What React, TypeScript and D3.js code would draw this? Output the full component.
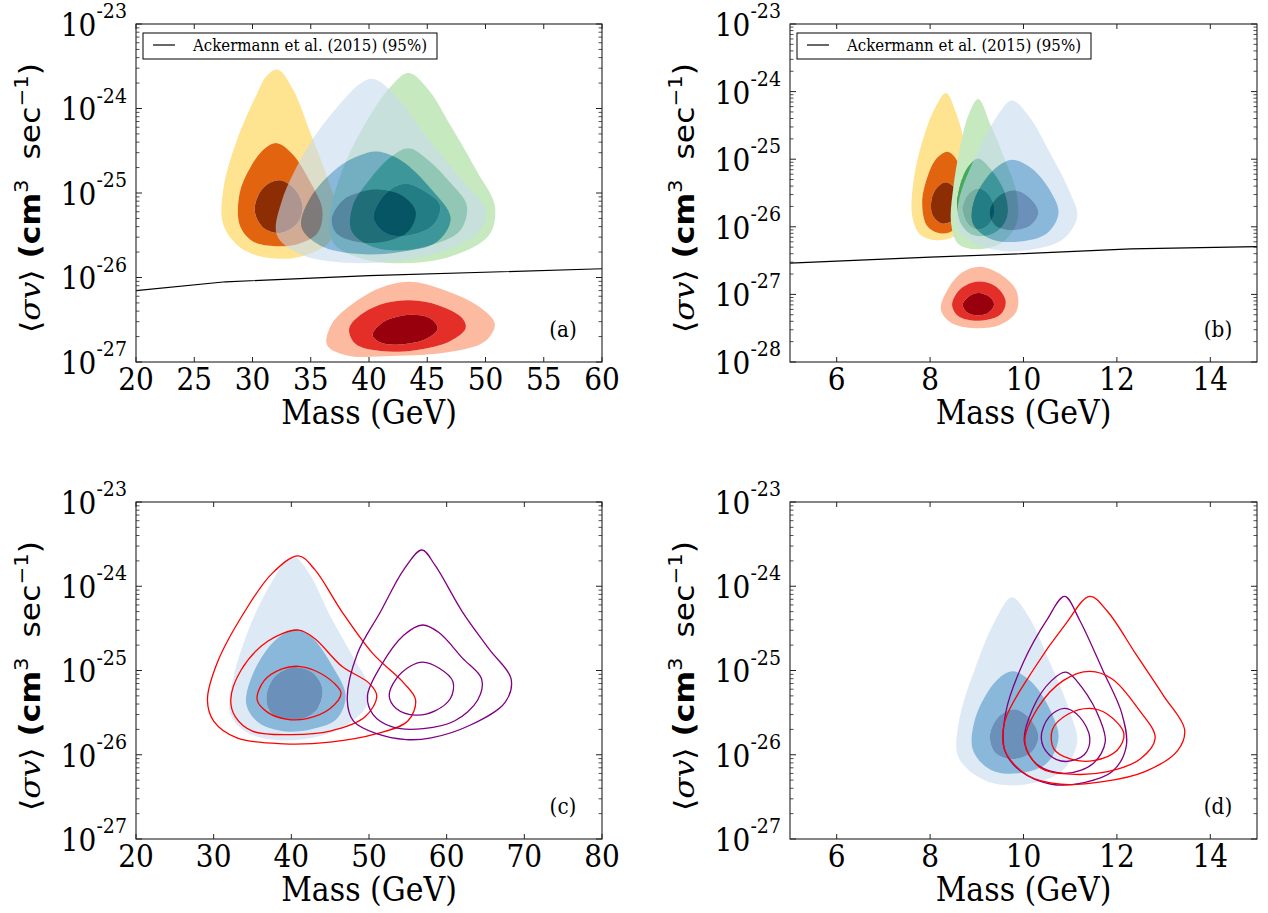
import React from 'react';
import * as d3 from 'd3';

type P = [number, number]; // [mass (GeV), log10 <σv> (cm^3 s^-1)]

// ---------------- panel (a) : 20–60 GeV ----------------
const aYellowOut: P[] = [[32.2,-23.54],[33.5,-23.78],[35.0,-24.3],[36.5,-24.85],[37.3,-25.25],[36.6,-25.58],[34.2,-25.75],[31.5,-25.77],[29.0,-25.65],[27.5,-25.38],[27.5,-24.95],[28.6,-24.4],[30.2,-23.88],[31.3,-23.6]];
const aYellowMid: P[] = [[32.1,-24.41],[33.5,-24.55],[35.0,-24.88],[36.0,-25.2],[35.6,-25.47],[34.0,-25.6],[32.0,-25.63],[30.0,-25.57],[28.9,-25.38],[28.9,-25.0],[29.8,-24.7],[31.0,-24.48]];
const aYellowIn: P[] = [[32.4,-24.85],[33.6,-24.95],[34.3,-25.15],[33.9,-25.35],[32.5,-25.47],[31.0,-25.42],[30.2,-25.22],[30.6,-25.0],[31.5,-24.88]];

const aGreenOut: P[] = [[43.4,-23.58],[45.0,-23.76],[47.0,-24.2],[49.3,-24.75],[50.8,-25.15],[50.3,-25.5],[47.0,-25.75],[43.0,-25.83],[39.5,-25.78],[37.0,-25.6],[36.6,-25.3],[37.8,-24.7],[39.8,-24.15],[41.8,-23.75]];
const aGreenMid: P[] = [[43.4,-24.47],[45.0,-24.6],[47.0,-24.88],[48.4,-25.15],[47.8,-25.45],[45.0,-25.63],[42.5,-25.68],[40.0,-25.62],[38.5,-25.45],[38.6,-25.15],[40.0,-24.85],[41.8,-24.58]];
const aGreenIn: P[] = [[43.2,-24.89],[44.8,-24.98],[46.1,-25.15],[45.5,-25.38],[43.5,-25.5],[41.5,-25.48],[40.4,-25.3],[41.0,-25.08],[42.2,-24.93]];

// blue set shared by panels (a) and (c)
const acBlueOut: P[] = [[40.4,-23.65],[42.3,-23.85],[45.0,-24.35],[48.0,-24.85],[50.0,-25.2],[49.5,-25.45],[46.0,-25.7],[42.0,-25.81],[37.5,-25.82],[34.0,-25.72],[32.1,-25.5],[32.5,-25.1],[35.0,-24.4],[37.8,-23.9],[39.3,-23.7]];
const acBlueMid: P[] = [[40.7,-24.51],[42.8,-24.62],[45.3,-24.95],[47.0,-25.3],[45.8,-25.58],[42.5,-25.7],[39.0,-25.72],[35.8,-25.62],[34.2,-25.4],[35.0,-25.05],[37.3,-24.7],[39.3,-24.55]];
const acBlueIn: P[] = [[40.8,-24.96],[42.8,-25.03],[44.0,-25.22],[43.4,-25.45],[41.5,-25.57],[39.0,-25.58],[37.2,-25.48],[36.8,-25.3],[37.8,-25.08],[39.5,-24.98]];

const aRedOut: P[] = [[43.5,-26.05],[46.5,-26.15],[49.5,-26.35],[50.8,-26.55],[50.0,-26.75],[47.0,-26.88],[42.0,-26.93],[38.0,-26.92],[36.4,-26.8],[36.8,-26.55],[38.5,-26.32],[41.0,-26.12]];
const aRedMid: P[] = [[43.6,-26.27],[46.0,-26.33],[48.0,-26.48],[48.3,-26.6],[47.0,-26.75],[44.0,-26.86],[41.0,-26.87],[38.8,-26.78],[38.3,-26.6],[39.5,-26.42],[41.5,-26.3]];
const aRedIn: P[] = [[43.6,-26.44],[45.2,-26.48],[45.9,-26.6],[45.0,-26.72],[43.0,-26.79],[41.0,-26.77],[40.3,-26.68],[41.3,-26.52]];

const aLimitMass = [20, 27.7, 40, 60];
const aLimitSv = [7.0e-27, 8.9e-27, 1.05e-26, 1.27e-26];

// ---------------- panel (b) : 5–15 GeV ----------------
const bYellowOut: P[] = [[8.34,-24.02],[8.55,-24.3],[8.75,-24.8],[8.85,-25.3],[8.8,-25.8],[8.6,-26.1],[8.2,-26.2],[7.8,-26.12],[7.62,-25.85],[7.65,-25.3],[7.85,-24.7],[8.1,-24.25]];
const bYellowMid: P[] = [[8.38,-24.89],[8.6,-25.05],[8.7,-25.5],[8.65,-25.95],[8.3,-26.1],[7.95,-26.0],[7.83,-25.65],[7.95,-25.25],[8.15,-24.98]];
const bYellowIn: P[] = [[8.34,-25.34],[8.55,-25.45],[8.62,-25.7],[8.5,-25.9],[8.25,-25.95],[8.05,-25.82],[8.03,-25.6],[8.15,-25.42]];

const bGreenOut: P[] = [[9.03,-24.11],[9.3,-24.5],[9.6,-25.0],[9.85,-25.5],[9.85,-25.95],[9.5,-26.25],[8.95,-26.33],[8.6,-26.25],[8.45,-25.95],[8.5,-25.4],[8.65,-24.8],[8.82,-24.35]];
const bGreenMid: P[] = [[9.03,-24.99],[9.3,-25.15],[9.6,-25.5],[9.65,-25.85],[9.4,-26.08],[8.95,-26.13],[8.7,-26.0],[8.58,-25.7],[8.68,-25.3],[8.85,-25.08]];
const bGreenIn: P[] = [[9.03,-25.43],[9.25,-25.52],[9.38,-25.75],[9.25,-25.97],[9.0,-26.04],[8.8,-25.95],[8.7,-25.72],[8.82,-25.52]];

// blue set shared by panels (b) and (d)
const bdBlueOut: P[] = [[9.75,-24.13],[10.1,-24.35],[10.6,-24.95],[11.0,-25.5],[11.15,-25.85],[10.85,-26.18],[10.25,-26.33],[9.6,-26.36],[9.05,-26.27],[8.6,-26.02],[8.62,-25.6],[8.98,-24.95],[9.4,-24.4]];
const bdBlueMid: P[] = [[9.8,-25.01],[10.2,-25.15],[10.6,-25.5],[10.75,-25.8],[10.5,-26.1],[9.9,-26.22],[9.3,-26.18],[8.92,-25.95],[8.95,-25.6],[9.3,-25.2],[9.6,-25.04]];
const bdBlueIn: P[] = [[9.8,-25.46],[10.1,-25.55],[10.32,-25.78],[10.15,-25.98],[9.75,-26.05],[9.4,-25.98],[9.28,-25.78],[9.45,-25.56]];

const bRedOut: P[] = [[9.07,-26.59],[9.5,-26.7],[9.85,-26.95],[9.85,-27.25],[9.5,-27.45],[8.95,-27.5],[8.45,-27.42],[8.23,-27.22],[8.4,-26.9],[8.7,-26.67]];
const bRedMid: P[] = [[9.03,-26.81],[9.4,-26.88],[9.62,-27.1],[9.5,-27.3],[9.0,-27.39],[8.6,-27.32],[8.47,-27.15],[8.65,-26.92]];
const bRedIn: P[] = [[9.03,-26.98],[9.28,-27.04],[9.37,-27.15],[9.25,-27.27],[9.0,-27.31],[8.78,-27.26],[8.7,-27.15],[8.83,-27.03]];

const bLimitMass = [5, 8, 10, 12.3, 15];
const bLimitSv = [2.9e-27, 3.55e-27, 4.0e-27, 4.7e-27, 5.1e-27];

// ---------------- panel (c) : 20–80 GeV (line contours) ----------------
const cRedOut: P[] = [[40.9,-23.64],[43.0,-23.8],[46.5,-24.3],[50.5,-24.8],[54.5,-25.15],[56.0,-25.35],[55.0,-25.6],[51.0,-25.75],[45.0,-25.85],[39.0,-25.87],[33.0,-25.8],[30.0,-25.6],[29.2,-25.35],[30.5,-24.9],[34.0,-24.3],[37.5,-23.85]];
const cRedMid: P[] = [[40.9,-24.52],[43.0,-24.62],[46.5,-24.95],[50.0,-25.15],[51.0,-25.3],[49.5,-25.55],[45.0,-25.72],[40.0,-25.76],[35.0,-25.72],[32.8,-25.55],[32.2,-25.35],[33.5,-25.0],[37.0,-24.65]];
const cRedIn: P[] = [[40.9,-24.95],[43.0,-25.0],[45.5,-25.15],[46.4,-25.27],[45.0,-25.45],[42.0,-25.57],[39.5,-25.58],[37.0,-25.5],[35.6,-25.35],[36.5,-25.12],[38.8,-24.98]];
const cPurpleOut: P[] = [[56.8,-23.57],[58.5,-23.75],[62.0,-24.3],[65.5,-24.75],[68.3,-25.1],[67.5,-25.38],[63.0,-25.65],[58.0,-25.8],[54.8,-25.82],[51.0,-25.75],[48.0,-25.6],[47.2,-25.35],[48.5,-24.8],[51.5,-24.3],[54.5,-23.8]];
const cPurpleMid: P[] = [[56.9,-24.46],[59.0,-24.55],[62.0,-24.85],[64.5,-25.1],[64.0,-25.35],[61.0,-25.6],[57.0,-25.69],[53.0,-25.67],[50.5,-25.52],[49.8,-25.3],[51.5,-24.95],[54.5,-24.58]];
const cPurpleIn: P[] = [[56.9,-24.9],[59.0,-24.97],[60.8,-25.13],[60.5,-25.33],[58.5,-25.48],[56.0,-25.53],[53.5,-25.45],[52.6,-25.3],[53.5,-25.1],[55.3,-24.95]];

// ---------------- panel (d) : 5–15 GeV (line contours) ----------------
const dRedOut: P[] = [[11.42,-24.12],[11.8,-24.3],[12.4,-24.8],[13.0,-25.3],[13.45,-25.7],[13.3,-25.95],[12.6,-26.2],[11.7,-26.32],[10.8,-26.35],[10.1,-26.25],[9.6,-25.95],[9.6,-25.6],[10.2,-25.0],[10.9,-24.45]];
const dRedMid: P[] = [[11.42,-25.01],[11.9,-25.1],[12.45,-25.45],[12.82,-25.8],[12.5,-26.05],[11.8,-26.2],[11.0,-26.23],[10.35,-26.15],[10.03,-25.85],[10.3,-25.45],[10.85,-25.12]];
const dRedIn: P[] = [[11.42,-25.45],[11.8,-25.52],[12.15,-25.75],[12.0,-25.95],[11.5,-26.07],[11.0,-26.05],[10.65,-25.93],[10.62,-25.7],[10.95,-25.52]];
const dPurpleOut: P[] = [[10.88,-24.12],[11.2,-24.4],[11.7,-25.0],[12.1,-25.5],[12.2,-25.9],[11.9,-26.2],[11.3,-26.33],[10.6,-26.35],[9.95,-26.2],[9.6,-25.95],[9.62,-25.5],[10.0,-24.9],[10.5,-24.4]];
const dPurpleMid: P[] = [[10.91,-25.02],[11.25,-25.2],[11.65,-25.6],[11.75,-25.85],[11.5,-26.1],[10.9,-26.22],[10.3,-26.12],[10.02,-25.85],[10.2,-25.45],[10.6,-25.12]];
const dPurpleIn: P[] = [[10.88,-25.45],[11.2,-25.55],[11.42,-25.8],[11.3,-26.0],[10.9,-26.08],[10.55,-26.0],[10.38,-25.8],[10.55,-25.55]];

// ---------------- axes ----------------
const lowMassTicks = [20, 25, 30, 35, 40, 45, 50, 55, 60];
const wideMassTicks = [20, 30, 40, 50, 60, 70, 80];
const lightMassTicks = [6, 8, 10, 12, 14];
const legendLabel = 'Ackermann et al. (2015) (95%)';
const xLabel = 'Mass (GeV)';

const YELLOW = ['#fee391', '#e2640e', '#8c2d04'];
const GREEN = ['#c7e9c0', '#41ab5d', '#006d2c'];
const BLUE = ['#c6dbef', '#3a89c1', '#08468b'];
const RED = ['#fcbba1', '#e32f27', '#99000d'];

const SERIF = 'DejaVu Serif';
const SY = 1.12;

type Filled = { levels: P[][]; colors: string[]; opacity: number };
type Lines = { levels: P[][]; color: string };
type Cfg = {
  left: number; top: number; width: number; height: number;
  xDomain: [number, number]; xTicks: number[]; yExp: [number, number];
  filled: Filled[]; lines: Lines[];
  limit?: { mass: number[]; sv: number[] };
  tag: string;
};

const panels: Cfg[] = [
  {
    left: 136, top: 24, width: 466, height: 338, xDomain: [20, 60], xTicks: lowMassTicks, yExp: [-27, -23],
    filled: [
      { levels: [aYellowOut, aYellowMid, aYellowIn], colors: YELLOW, opacity: 1 },
      { levels: [aGreenOut, aGreenMid, aGreenIn], colors: GREEN, opacity: 1 },
      { levels: [acBlueOut, acBlueMid, acBlueIn], colors: BLUE, opacity: 0.6 },
      { levels: [aRedOut, aRedMid, aRedIn], colors: RED, opacity: 1 },
    ],
    lines: [], limit: { mass: aLimitMass, sv: aLimitSv }, tag: '(a)',
  },
  {
    left: 790, top: 24, width: 467, height: 338, xDomain: [5, 15], xTicks: lightMassTicks, yExp: [-28, -23],
    filled: [
      { levels: [bYellowOut, bYellowMid, bYellowIn], colors: YELLOW, opacity: 1 },
      { levels: [bGreenOut, bGreenMid, bGreenIn], colors: GREEN, opacity: 1 },
      { levels: [bdBlueOut, bdBlueMid, bdBlueIn], colors: BLUE, opacity: 0.6 },
      { levels: [bRedOut, bRedMid, bRedIn], colors: RED, opacity: 1 },
    ],
    lines: [], limit: { mass: bLimitMass, sv: bLimitSv }, tag: '(b)',
  },
  {
    left: 136, top: 502, width: 466, height: 337, xDomain: [20, 80], xTicks: wideMassTicks, yExp: [-27, -23],
    filled: [{ levels: [acBlueOut, acBlueMid, acBlueIn], colors: BLUE, opacity: 0.6 }],
    lines: [
      { levels: [cRedOut, cRedMid, cRedIn], color: '#ff0000' },
      { levels: [cPurpleOut, cPurpleMid, cPurpleIn], color: '#800080' },
    ],
    tag: '(c)',
  },
  {
    left: 790, top: 502, width: 467, height: 337, xDomain: [5, 15], xTicks: lightMassTicks, yExp: [-27, -23],
    filled: [{ levels: [bdBlueOut, bdBlueMid, bdBlueIn], colors: BLUE, opacity: 0.6 }],
    lines: [
      { levels: [dPurpleOut, dPurpleMid, dPurpleIn], color: '#800080' },
      { levels: [dRedOut, dRedMid, dRedIn], color: '#ff0000' },
    ],
    tag: '(d)',
  },
];

function Panel({ cfg, idx }: { cfg: Cfg; idx: number }) {
  const { left, top, width, height, xDomain, xTicks, yExp } = cfg;
  const bottom = top + height;
  const right = left + width;
  const x = d3.scaleLinear().domain(xDomain).range([left, right]);
  const y = d3.scaleLog().domain([10 ** yExp[0], 10 ** yExp[1]]).range([bottom, top]);
  const ring = d3
    .line<P>()
    .x((p) => x(p[0]))
    .y((p) => y(10 ** p[1]))
    .curve(d3.curveCatmullRomClosed.alpha(0.5));
  const majors: number[] = d3.range(yExp[0], yExp[1] + 1);
  const minors: number[] = [];
  for (let n = yExp[0]; n < yExp[1]; n++) for (let k = 2; k <= 9; k++) minors.push(k * 10 ** n);
  const clipId = `clip${idx}`;
  const stroke = '#222';

  let limitPath: string | null = null;
  if (cfg.limit) {
    const pts = cfg.limit.mass.map((m, i) => [m, cfg.limit!.sv[i]] as [number, number]);
    limitPath = d3.line<[number, number]>().x((p) => x(p[0])).y((p) => y(p[1]))(pts);
  }

  return (
    <g>
      <defs>
        <clipPath id={clipId}>
          <rect x={left} y={top} width={width} height={height} />
        </clipPath>
      </defs>
      <g clipPath={`url(#${clipId})`}>
        {cfg.filled.map((s, si) =>
          s.levels.map((lv, li) => {
            const d = li < s.levels.length - 1 ? (ring(lv) || '') + (ring(s.levels[li + 1]) || '') : ring(lv) || '';
            return (
              <path key={`f${si}-${li}`} d={d} fill={s.colors[li]} fillOpacity={s.opacity} fillRule="evenodd" stroke="none" />
            );
          })
        )}
        {cfg.lines.map((s, si) =>
          s.levels.map((lv, li) => (
            <path key={`l${si}-${li}`} d={ring(lv) || ''} fill="none" stroke={s.color} strokeWidth={1.3} />
          ))
        )}
        {limitPath && <path d={limitPath} fill="none" stroke="#000" strokeWidth={1.2} />}
      </g>

      {/* ticks */}
      {xTicks.map((t) => (
        <g key={`xt${t}`}>
          <line x1={x(t)} x2={x(t)} y1={bottom} y2={bottom - 5} stroke={stroke} strokeWidth={1} />
          <line x1={x(t)} x2={x(t)} y1={top} y2={top + 5} stroke={stroke} strokeWidth={1} />
          <g transform={`translate(${x(t)},${bottom + 28}) scale(1,${SY})`}>
            <text textAnchor="middle" fontFamily={SERIF} fontSize={28} fill="#000">{t}</text>
          </g>
        </g>
      ))}
      {minors.map((v, i) => (
        <g key={`ym${i}`}>
          <line x1={left} x2={left + 3.5} y1={y(v)} y2={y(v)} stroke={stroke} strokeWidth={0.8} />
          <line x1={right} x2={right - 3.5} y1={y(v)} y2={y(v)} stroke={stroke} strokeWidth={0.8} />
        </g>
      ))}
      {majors.map((n) => (
        <g key={`yM${n}`}>
          <line x1={left} x2={left + 6} y1={y(10 ** n)} y2={y(10 ** n)} stroke={stroke} strokeWidth={1} />
          <line x1={right} x2={right - 6} y1={y(10 ** n)} y2={y(10 ** n)} stroke={stroke} strokeWidth={1} />
          <g transform={`translate(${left - 9},${y(10 ** n)}) scale(1,${SY})`}>
            <text y={10.7} textAnchor="end" fontFamily={SERIF} fontSize={28} fill="#000">
              10
              <tspan dy={-16} fontSize={19}>{`-${-n}`}</tspan>
            </text>
          </g>
        </g>
      ))}
      <rect x={left} y={top} width={width} height={height} fill="none" stroke={stroke} strokeWidth={1.1} />

      {/* legend */}
      {cfg.limit && (
        <g>
          <rect x={left + 7} y={top + 9} width={294} height={26} fill="#fff" stroke="#000" strokeWidth={1} />
          <line x1={left + 17} x2={left + 39} y1={top + 21} y2={top + 21} stroke="#000" strokeWidth={1.2} />
          <g transform={`translate(${left + 57},${top + 27}) scale(1,${SY})`}>
            <text fontFamily={SERIF} fontSize={15} fill="#000">{legendLabel}</text>
          </g>
        </g>
      )}

      {/* panel tag */}
      <g transform={`translate(${right - 39},${bottom - 25}) scale(1,${SY})`}>
        <text textAnchor="middle" fontFamily={SERIF} fontSize={20} fill="#000">{cfg.tag}</text>
      </g>

      {/* x label */}
      <g transform={`translate(${(left + right) / 2},${bottom + 62}) scale(1,${SY})`}>
        <text textAnchor="middle" fontFamily={SERIF} fontSize={30} fill="#000">{xLabel}</text>
      </g>

      {/* y label */}
      <g transform={`translate(${left - 96},${top + 174}) rotate(-90) scale(${SY},1)`}>
        <text textAnchor="middle" fontFamily="DejaVu Sans" fontSize={28} fill="#000">
          <tspan fontFamily="DejaVu Serif">⟨</tspan>
          <tspan fontFamily="DejaVu Serif" fontStyle="italic">σv</tspan>
          <tspan fontFamily="DejaVu Serif">⟩</tspan>
          <tspan fontWeight="bold"> (cm</tspan>
          <tspan dy={-12} fontSize={19}>3</tspan>
          <tspan dy={12}>{'\u00a0 sec'}</tspan>
          <tspan dy={-12} fontSize={19}>−1</tspan>
          <tspan dy={12}>)</tspan>
        </text>
      </g>
    </g>
  );
}

export default function App() {
  return (
    <svg
      width={1268}
      height={913}
      viewBox="0 0 1268 913"
      style={{ position: 'absolute', left: 0, top: 0, background: '#fff' }}
    >
      <rect x={0} y={0} width={1268} height={913} fill="#fff" />
      {panels.map((c, i) => (
        <Panel key={i} cfg={c} idx={i} />
      ))}
    </svg>
  );
}
